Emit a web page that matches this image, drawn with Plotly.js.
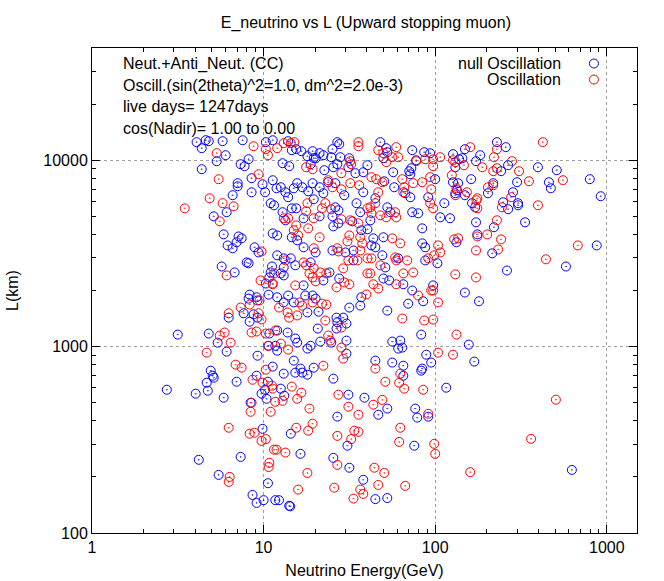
<!DOCTYPE html>
<html>
<head>
<meta charset="utf-8">
<script src="https://cdn.plot.ly/plotly-3.0.1.min.js"></script>
<style>
  html, body { margin: 0; padding: 0; background: #fff; }
  #plot { width: 664px; height: 581px; }
</style>
</head>
<body>
<div id="plot"></div>
<script>
// [E_nu (GeV), L (km)]
const nullOsc = [
  [4.07,12500],[4.36,11600],[4.60,12810],[4.79,12650],[5.77,12650],[7.55,12800],[10.3,12500],[11.3,12800],
  [6.01,10640],[5.33,9880],[8.18,10130],[7.35,9520],[7.75,9290],[4.36,8950],[8.51,8010],[7.06,7530],
  [7.06,7250],[9.86,7430],[6.60,6490],[8.51,6730],[10.2,6730],[11.0,5880],[11.5,5730],[5.12,5000],
  [6.09,5260],[5.85,4000],[7.15,3900],[7.45,3810],[6.96,3630],[6.17,3490],[6.60,3370],[8.86,3410],
  [9.35,3200],[11.3,4050],[5.70,2690],[7.97,2830],[8.18,2800],[6.78,2500],[11.2,2690],[10.8,2350],
  [10.3,2180],[10.7,1900],[8.29,1900],[8.18,1810],[9.10,1840],[9.22,1770],[7.65,1510],[6.26,1430],
  [8.74,1490],[9.22,1430],[8.29,1360],[3.16,1160],[4.79,1175],[5.40,1050],[10.8,1175],[10.7,1010],
  [6.09,940],[9.22,894],[4.92,743],[11.3,781],[5.05,698],[9.10,698],[5.12,681],[4.66,640],
  [2.73,587],[4.02,559],[4.73,580],[5.85,532],[6.96,648],[10.6,648],[10.2,587],[9.73,559],
  [10.4,525],[8.40,500],[9.86,362],[4.19,247],[7.35,256],[5.47,205],[10.6,185],[8.62,160],
  [10.0,150],[9.10,145],[11.7,150],
  [13.9,12650],[14.6,11320],[15.5,11460],[16.6,11180],[18.0,10510],[19.3,11180],[19.6,10260],[21.2,10910],
  [22.3,10640],[24.8,10380],[26.9,12500],[27.6,12200],[25.2,11460],[28.0,10380],[31.6,10250],[47.9,12500],
  [51.9,11600],[52.6,11040],[49.9,10250],[73.5,11320],[86.3,11040],[93.5,10900],[72.6,9060],[70.6,8730],
  [127,10780],[12.9,9640],[14.1,9290],[18.8,9520],[20.1,10250],[22.6,8840],[23.8,7620],[25.5,9170],
  [26.9,9520],[31.2,9170],[34.3,8520],[38.1,8620],[40.3,9400],[50.5,7710],[56.9,8620],[66.9,6650],
  [71.6,8410],[77.5,10000],[100,7910],[113,5880],[127,7620],[11.3,7810],[11.9,7070],[12.6,7160],
  [13.4,6730],[13.9,6330],[15.0,7070],[15.7,7530],[16.8,7160],[18.2,6810],[19.3,7530],[19.6,6170],
  [21.2,7160],[22.3,6650],[26.2,7530],[29.5,6490],[26.2,5590],[38.1,6730],[44.8,6250],[57.7,7160],
  [71.6,6330],[91.1,6330],[34.8,5880],[52.6,5590],
  [12.9,5260],[14.6,5520],[15.5,5520],[13.4,4760],[17.1,4880],[21.2,5000],[25.2,5000],[27.3,5390],
  [32.9,4700],[36.6,5260],[41.9,4760],[54.7,5260],[73.5,5260],[79.6,5190],[84.0,4310],[107,4940],
  [122,4880],[12.0,3950],[14.6,3860],[25.5,4420],[27.3,4590],[37.1,4210],[40.3,4260],[43.6,3810],
  [42.5,3490],[15.7,3720],[17.1,3410],[20.1,3200],[25.2,3280],[30.0,3200],[33.4,3280],[44.8,3410],
  [49.9,3860],[84.0,3580],[87.5,3410],[12.0,3090],[13.1,2975],[13.1,2660],[14.4,2975],[15.3,2730],
  [18.8,2830],[33.4,2900],[49.2,3090],[51.2,2660],[60.9,2975],[87.5,2900],[103,2800],[11.0,2500],
  [12.6,2470],[13.1,2410],[17.1,2130],[22.3,2265],[24.2,2500],[27.6,2320],[49.9,2320],[54.0,2265],
  [65.2,2160],[73.5,2000],[97.3,2130],[12.0,1840],[13.9,1880],[13.1,1726],[15.0,1726],[17.5,1880],
  [19.3,1880],[20.1,1810],[18.0,1525],[20.9,1540],[37.1,1840],[36.6,1660],[31.6,1620],[52.6,1560],
  [69.6,1700],[85.1,1750],[26.6,1430],[29.1,1430],[26.9,1350],[30.4,1330],[20.7,1250],[26.6,1250],
  [12.0,1220],[13.8,1190],[11.7,1010],[12.0,951],[15.3,1105],[15.7,1050],[18.0,976],[18.8,1010],
  [21.4,1064],[24.8,1050],[30.4,1077],[30.4,917],[56.2,1064],[62.6,1077],[64.3,988],[60.9,976],
  [82.9,1160],[88.7,905],[94.8,821],[15.0,841],[16.4,762],[15.3,725],[19.6,771],[44.8,841],
  [56.2,821],[65.2,790],[84.0,762],[13.1,716],
  [16.8,725],[18.0,707],[25.5,673],[65.2,698],[82.9,743],[116,602],[12.6,595],[13.2,545],
  [31.2,552],[26.9,421],[38.7,532],[46.6,431],[52.6,465],[76.5,465],[78.6,416],[91.1,421],
  [14.4,341],[30.8,294],[75.5,294],[16.4,266],[25.5,253],[31.6,224],[38.1,193],[44.8,152],
  [52.6,154],[12.3,150],[14.1,140],[14.3,139],[626,218],
  [171,5590],[266,5460],[304,5730],[173,4645],[334,4645],[220,4370],[176,4000],[133,3630],
  [215,3165],[874,3490],[578,2690],[262,2560],[149,1950],[180,1750],[157,1025],[169,831],
  [229,12500],[258,11750],[149,11460],[183,10640],[173,9880],[144,10250],[138,10120],[266,9400],
  [242,8730],[397,9170],[511,8840],[131,9170],[162,7910],[300,7620],[460,7620],[796,7910],
  [472,7070],[218,7530],[203,6650],[284,6730],[149,6490],[922,6410],[249,5950],[304,5880],
  [164,5880],[136,7530],[134,6900],[131,6650]
];

const withOsc = [
  [8.74,11890],[10.3,11460],[5.33,10910],[10.6,10640],[9.35,8410],[5.47,7910],[4.85,6250],[5.77,5880],
  [6.69,5660],[3.47,5520],[5.55,4700],[9.73,3240],[6.09,2410],[9.60,2265],[11.3,2160],[9.47,1770],
  [8.29,1680],[7.35,1620],[6.26,1510],[9.35,1510],[9.73,1400],[5.93,1190],[5.55,1146],[6.43,1050],
  [8.51,1190],[9.10,1205],[10.3,1175],[10.6,1010],[11.7,1220],[4.66,928],[6.87,800],[7.45,771],
  [10.3,752],[8.62,664],[9.86,640],[11.2,617],[11.3,595],[8.51,500],[8.40,447],[11.0,447],
  [11.7,506],[6.26,367],[8.29,341],[8.86,345],[9.73,312],[10.3,319],[11.5,280],[10.8,238],
  [10.7,226],[6.34,200],[6.26,188],
  [12.0,11600],[13.1,12350],[14.4,12350],[15.1,12500],[32.0,9880],[32.4,9520],[35.7,12500],[35.7,11890],
  [46.6,11320],[49.9,10910],[59.3,11750],[56.2,10380],[60.9,10380],[51.9,9760],[87.5,10120],[77.5,9880],
  [97.3,10120],[97.3,9290],[107,10380],[127,10000],[17.7,9170],[19.3,8950],[28.4,8520],[42.5,8110],
  [45.4,7910],[64.3,7910],[66.0,7160],[74.5,7530],[93.5,8110],[84.0,7620],[94.8,6980],[125,8310],
  [133,7070],[131,6490],[18.0,5880],[23.8,7810],[25.2,7160],[28.4,6980],[22.9,5880],[32.0,7530],
  [36.1,7340],[46.6,6730],[49.2,7620],[65.2,6730],[93.5,5880],[41.9,5590],[44.8,5880],
  [13.1,4880],[13.9,4880],[17.7,5320],[19.6,4880],[21.9,5520],[24.8,5450],[28.4,4820],[32.0,4760],
  [35.7,4590],[40.3,5520],[42.5,5190],[47.9,5060],[51.9,4940],[58.5,5260],[59.3,4940],[97.3,5520],
  [15.5,4470],[15.0,4210],[15.9,3950],[18.2,4310],[31.6,3950],[30.8,3670],[36.6,3860],[37.6,3580],
  [21.2,3860],[19.6,3370],[26.9,3370],[27.3,3240],[36.6,3280],[56.2,3810],[62.6,3580],[104,3490],
  [129,3760],[136,3810],[13.4,2900],[17.1,2830],[17.7,2730],[19.6,2630],[31.2,2900],[35.2,2900],
  [40.3,2975],[42.5,2975],[47.9,2730],[58.5,3010],[59.3,2900],[68.7,2900],[91.1,2975],[98.7,3090],
  [107,3200],[11.5,2470],[11.3,2180],[15.3,2130],[18.5,2470],[19.3,2350],[21.4,2500],[23.2,2470],
  [20.1,2240],[26.6,2080],[29.1,2630],[29.5,2210],[31.6,2160],[40.3,2470],[41.9,2470],[43.6,2160],
  [46.6,2050],[59.3,2160],[74.5,2500],[65.2,2470],[94.8,2000],[12.3,1620],[13.8,1525],[16.2,1726],
  [16.8,1660],[19.3,1726],[21.9,1700],[23.2,1680],[15.7,1470],[14.1,1430],[39.7,1905],[79.6,1880],
  [104,1726],[97.3,2000],[22.9,1380],[23.8,1146],[28.4,1266],[12.6,1038],[13.9,964],[24.5,1077],
  [28.4,988],[64.3,1415],[86.3,1380],[97.3,1397],[133,1160],[104,928],[127,905],[22.3,790],
  [29.1,862],[44.8,762],[62.6,716],
  [51.2,648],[61.7,640],[66.0,595],[85.1,587],[12.9,512],[14.6,610],[15.7,525],[16.6,566],
  [18.5,465],[27.3,552],[31.2,476],[35.7,431],[43.6,488],[49.2,518],[91.1,436],[19.3,386],
  [18.2,354],[15.5,367],[26.9,332],[33.8,354],[35.7,349],[32.4,319],[62.6,367],[61.7,308],
  [98.7,301],[100,266],[11.9,280],[13.4,270],[26.9,232],[18.0,210],[15.9,171],[25.8,175],
  [44.2,224],[50.5,210],[36.6,171],[46.6,181],[38.1,162],[33.4,153],[66.9,179],
  [505,519],[362,320],[160,212],
  [176,5520],[245,5590],[397,5730],[229,4760],[176,3900],[201,4000],[242,3760],[173,3280],
  [233,3320],[678,3490],[442,2940],[131,2440],[173,2350],
  [424,12500],[229,11460],[160,11750],[220,10380],[280,9880],[131,9760],[147,9400],[188,9170],
  [229,9060],[218,8730],[308,8730],[352,7710],[555,7810],[203,7160],[218,7340],[153,6730],
  [176,6250],[174,6100],[277,6330]
];

const xTicks = [1, 10, 100, 1000];
const yTicks = [100, 1000, 10000];
const infoLines = [
  "Neut.+Anti_Neut. (CC)",
  "Oscill.(sin(2theta)^2=1.0, dm^2=2.0e-3)",
  "live days= 1247days",
  "cos(Nadir)= 1.00 to 0.00"
];
const seriesNames = ["null Oscillation", "Oscillation"];
const seriesColors = ["#0000ff", "#ff0000"];

const FONT = "Liberation Sans, Arial, Helvetica, sans-serif";

function minorVals(lo, hi){
  const out = [];
  for (let p = lo; p < hi; p++)
    for (let k = 2; k <= 9; k++) out.push(k * Math.pow(10, p));
  return out;
}

function scatter(pts, i){
  return {
    type: "scatter",
    mode: "markers",
    x: pts.map(p => p[0]),
    y: pts.map(p => p[1]),
    name: seriesNames[i],
    marker: {symbol: "circle-open-dot", size: 9, color: seriesColors[i], line: {width: 1, color: seriesColors[i]}},
    hoverinfo: "skip",
    showlegend: false
  };
}

function axisBase(){
  return {
    type: "log",
    ticks: "inside",
    ticklen: 8,
    tickwidth: 1,
    tickcolor: "#000",
    showline: true,
    mirror: "ticks",
    linecolor: "#000",
    linewidth: 1,
    showgrid: true,
    gridcolor: "#a0a0a0",
    griddash: "dot",
    gridwidth: 1,
    zeroline: false,
    tickmode: "array",
    tickfont: {family: FONT, size: 16, color: "#000"}
  };
}

const xaxis = Object.assign(axisBase(), {
  range: [0, Math.log10(1500)],
  tickvals: xTicks,
  ticktext: xTicks.map(String),
  minor: {tickmode: "array", tickvals: minorVals(0, 4), ticks: "inside", ticklen: 4, tickcolor: "#000", showgrid: false},
  title: {text: "Neutrino Energy(GeV)", font: {family: FONT, size: 16, color: "#000"}, standoff: 9}
});
const yaxis = Object.assign(axisBase(), {
  range: [2, Math.log10(40000)],
  tickvals: yTicks,
  ticktext: yTicks.map(String),
  minor: {tickmode: "array", tickvals: minorVals(2, 5), ticks: "inside", ticklen: 4, tickcolor: "#000", showgrid: false},
  title: {text: "L(km)", font: {family: FONT, size: 16, color: "#000"}, standoff: 20}
});

const annotations = infoLines.map((t, i) => ({
  text: t, xref: "paper", yref: "paper", x: 0.053, y: 0.967 - i * 0.044,
  xanchor: "left", yanchor: "middle", showarrow: false,
  font: {family: FONT, size: 16, color: "#000"}
}));
seriesNames.forEach((t, i) => annotations.push({
  text: t, xref: "paper", yref: "paper", x: 0.864, y: 0.968 - i * 0.033,
  xanchor: "right", yanchor: "middle", showarrow: false,
  font: {family: FONT, size: 16, color: "#000"}
}));

const shapes = seriesColors.map((c, i) => ({
  type: "circle", xref: "paper", yref: "paper",
  xsizemode: "pixel", ysizemode: "pixel",
  xanchor: 0.921, yanchor: 0.968 - i * 0.033,
  x0: -4.5, x1: 4.5, y0: -4.5, y1: 4.5,
  line: {color: c, width: 1}
}));

const layout = {
  width: 664, height: 581,
  margin: {l: 92, r: 27, t: 48, b: 48},
  paper_bgcolor: "#fff",
  plot_bgcolor: "#fff",
  font: {family: FONT, size: 16, color: "#000"},
  title: {text: "E_neutrino vs L (Upward stopping muon)", font: {family: FONT, size: 16, color: "#000"}, x: 0.551, xanchor: "center", y: 0.961, yanchor: "middle"},
  xaxis, yaxis,
  annotations, shapes,
  showlegend: false
};

Plotly.newPlot("plot", [scatter(nullOsc, 0), scatter(withOsc, 1)], layout, {staticPlot: true});
</script>
</body>
</html>
